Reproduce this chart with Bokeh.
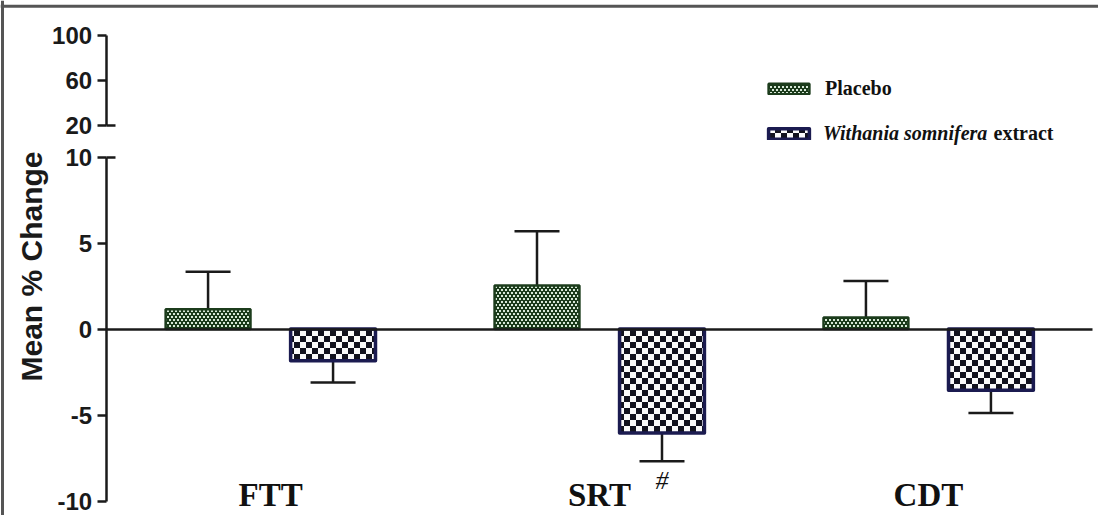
import zlib, struct, base64, math
from bokeh.plotting import figure
from bokeh.models import (ColumnDataSource, Range1d, LinearAxis, FixedTicker, Whisker, TeeHead,
                          Legend, LegendItem, Label, Span, ImageURLTexture)
from bokeh.core.properties import value
from bokeh.embed import file_html
from bokeh.resources import INLINE

# ---------------- data ----------------
categories = ["FTT", "SRT", "CDT"]
placebo_mean = [1.15, 2.54, 0.67]
placebo_sem = [2.18, 3.15, 2.12]
ws_mean = [-1.84, -6.04, -3.55]
ws_sem = [1.26, 1.64, 1.33]
lower_ticks = [-10, -5, 0, 5, 10]
upper_ticks = [20, 60, 100]
series_names = ["Placebo", "Withania somnifera", "extract"]
sig_marks = ["", "#", ""]

# ---------------- broken-axis mapping ----------------
BREAK_START = 11.82      # display position of 20 on the upper segment
UPPER_SCALE = 0.0659     # display units per data unit above the break

def disp(v):
    return BREAK_START + (v - 20) * UPPER_SCALE if v >= 20 else v

# ---------------- textures ----------------
def png_uri(pixels):
    h = len(pixels); w = len(pixels[0])
    raw = b"".join(b"\x00" + bytes([c for px in row for c in px]) for row in pixels)
    def chunk(t, d):
        c = struct.pack(">I", len(d)) + t + d
        return c + struct.pack(">I", zlib.crc32(t + d) & 0xffffffff)
    png = (b"\x89PNG\r\n\x1a\n" + chunk(b"IHDR", struct.pack(">IIBBBBB", w, h, 8, 2, 0, 0, 0))
           + chunk(b"IDAT", zlib.compress(raw)) + chunk(b"IEND", b""))
    return "data:image/png;base64," + base64.b64encode(png).decode()

G = (26, 58, 26); Wg = (215, 232, 215)
dots = []
for y in range(6):
    row = []
    for x in range(8):
        white = (y in (1, 2) and x in (1, 2, 5, 6)) or (y in (4, 5) and x in (3, 4, 7, 0))
        row.append(Wg if white else G)
    dots.append(row)
K = (18, 18, 30); W = (250, 250, 250)
checker = [[K if ((x // 6) + (y // 6)) % 2 == 0 else W for x in range(12)] for y in range(12)]
dot_tex = ImageURLTexture(url=png_uri(dots), repetition="repeat")
chk_tex = ImageURLTexture(url=png_uri(checker), repetition="repeat")

# ---------------- figure ----------------
p = figure(width=1098, height=515, output_backend="svg", toolbar_location=None,
           x_range=Range1d(0.179, 3.517), y_range=Range1d(-10.837, 19.105),
           x_axis_location=None, y_axis_location=None, min_border=0)
p.outline_line_color = None
p.background_fill_color = "white"
p.border_fill_color = "white"
p.xgrid.visible = False
p.ygrid.visible = False

xs = list(range(1, len(categories) + 1))
OFF = 0.19
BW = 0.258
src_p = ColumnDataSource(dict(x=[x - OFF for x in xs], top=placebo_mean,
                              upper=[m + s for m, s in zip(placebo_mean, placebo_sem)]))
src_w = ColumnDataSource(dict(x=[x + OFF for x in xs], top=ws_mean,
                              lower=[m - s for m, s in zip(ws_mean, ws_sem)], sig=sig_marks))

r_p = p.vbar(x="x", top="top", bottom=0, width=BW, source=src_p, fill_color="white",
             hatch_pattern=value("dots"), hatch_extra={"dots": dot_tex},
             line_color="#1c3c1c", line_width=2.5)
r_w = p.vbar(x="x", top="top", bottom=0, width=BW, source=src_w, fill_color="white",
             hatch_pattern=value("checker"), hatch_extra={"checker": chk_tex},
             line_color="#1b1b50", line_width=3.5, line_join="round")

p.add_layout(Whisker(source=src_p, base="x", lower="top", upper="upper",
                     upper_head=TeeHead(size=45, line_width=2.5, line_color="#1a1a1a"),
                     lower_head=None, line_width=2.5, line_color="#1a1a1a"))
p.add_layout(Whisker(source=src_w, base="x", lower="lower", upper="top",
                     lower_head=TeeHead(size=45, line_width=2.5, line_color="#1a1a1a"),
                     upper_head=None, line_width=2.5, line_color="#1a1a1a"))

# significance mark
i_sig = sig_marks.index("#")
p.add_layout(Label(x=xs[i_sig] + OFF, y=ws_mean[i_sig] - ws_sem[i_sig], y_offset=-5,
                   text="#", text_align="center", text_baseline="top",
                   text_font="Liberation Serif", text_font_style="italic",
                   text_font_size="26px", text_color="#111"))

# ---------------- axes ----------------
AX_X = 0.5
def style_y(ax):
    ax.fixed_location = AX_X
    ax.axis_line_width = 2.5
    ax.axis_line_color = "#1a1a1a"
    ax.major_tick_line_width = 2.5
    ax.major_tick_line_color = "#1a1a1a"
    ax.major_tick_out = 9
    ax.major_tick_in = 0
    ax.minor_tick_line_color = None
    ax.major_label_text_font = "Liberation Sans"
    ax.major_label_text_font_style = "bold"
    ax.major_label_text_font_size = "24px"
    ax.major_label_text_color = "#1a1a1a"
    ax.major_label_standoff = 5

ax_low = LinearAxis(ticker=FixedTicker(ticks=lower_ticks), bounds=(-10, 10),
                    major_label_overrides={t: str(t) for t in lower_ticks})
style_y(ax_low)
p.add_layout(ax_low, "left")

up_pos = [round(disp(v), 6) for v in upper_ticks]
ax_up = LinearAxis(ticker=FixedTicker(ticks=up_pos),
                   bounds=(up_pos[0] - 1e-6, up_pos[-1] + 1e-6),
                   major_label_overrides={pos: str(v) for pos, v in zip(up_pos, upper_ticks)})
style_y(ax_up)
p.add_layout(ax_up, "left")

# break caps (ticks pointing inward at the ends of the break)
ax_cap = LinearAxis(ticker=FixedTicker(ticks=[lower_ticks[-1], up_pos[0]]),
                    bounds=(lower_ticks[-1] - 1e-6, up_pos[0] + 1e-6))
ax_cap.fixed_location = AX_X
ax_cap.axis_line_color = None
ax_cap.major_tick_in = 9
ax_cap.major_tick_out = 0
ax_cap.major_tick_line_width = 2.5
ax_cap.major_tick_line_color = "#1a1a1a"
ax_cap.minor_tick_line_color = None
ax_cap.major_label_text_color = None
p.add_layout(ax_cap, "left")

# zero line
ax_zero = LinearAxis(ticker=FixedTicker(ticks=[]), bounds=(0.5, 3.5))
ax_zero.fixed_location = 0
ax_zero.axis_line_width = 2.5
ax_zero.axis_line_color = "#1a1a1a"
ax_zero.major_tick_line_color = None
ax_zero.minor_tick_line_color = None
ax_zero.major_label_text_color = None
p.add_layout(ax_zero, "below")

# category labels
ax_cat = LinearAxis(ticker=FixedTicker(ticks=xs),
                    major_label_overrides={x: c for x, c in zip(xs, categories)})
ax_cat.fixed_location = -8.62
ax_cat.axis_line_color = None
ax_cat.major_tick_line_color = None
ax_cat.minor_tick_line_color = None
ax_cat.major_tick_out = 0
ax_cat.major_tick_in = 0
ax_cat.major_label_standoff = 0
ax_cat.major_label_text_font = "Liberation Serif"
ax_cat.major_label_text_font_style = "bold"
ax_cat.major_label_text_font_size = "33px"
ax_cat.major_label_text_color = "#111"
p.add_layout(ax_cat, "below")

# y-axis title
p.add_layout(Label(x=31, y=249, x_units="screen", y_units="screen", text="Mean % Change",
                   angle=math.pi / 2, text_align="center", text_baseline="middle",
                   text_font="Liberation Sans", text_font_style="bold",
                   text_font_size="30px", text_color="#1a1a1a"))

# ---------------- legend ----------------
leg1 = Legend(items=[LegendItem(label=series_names[0], renderers=[r_p])],
              location=(763, 415), padding=0, margin=0, border_line_color=None,
              background_fill_alpha=0, glyph_width=51, glyph_height=13, label_height=13,
              label_standoff=11, label_text_font="Liberation Serif",
              label_text_font_style="bold", label_text_font_size="20px",
              label_text_color="#111")
leg2 = Legend(items=[LegendItem(label=series_names[1], renderers=[r_w])],
              location=(763, 370), padding=0, margin=0, border_line_color=None,
              background_fill_alpha=0, glyph_width=51, glyph_height=13, label_height=13,
              label_standoff=9, label_text_font="Liberation Serif",
              label_text_font_style="bold italic", label_text_font_size="20px",
              label_text_color="#111")
p.add_layout(leg1, "center")
p.add_layout(leg2, "center")
p.add_layout(Label(x=993, y=383, x_units="screen", y_units="screen", text=series_names[2],
                   text_align="left", text_baseline="middle",
                   text_font="Liberation Serif", text_font_style="bold",
                   text_font_size="20px", text_color="#111"))

# ---------------- outer frame lines (top + left) ----------------
p.add_layout(Span(location=0.179 + 2 / 329, dimension="height", line_color="#555", line_width=3))
p.add_layout(Span(location=19.105 - 5.8 / 17.2, dimension="width", line_color="#555", line_width=3))

open("out.html", "w").write(file_html(p, INLINE))
